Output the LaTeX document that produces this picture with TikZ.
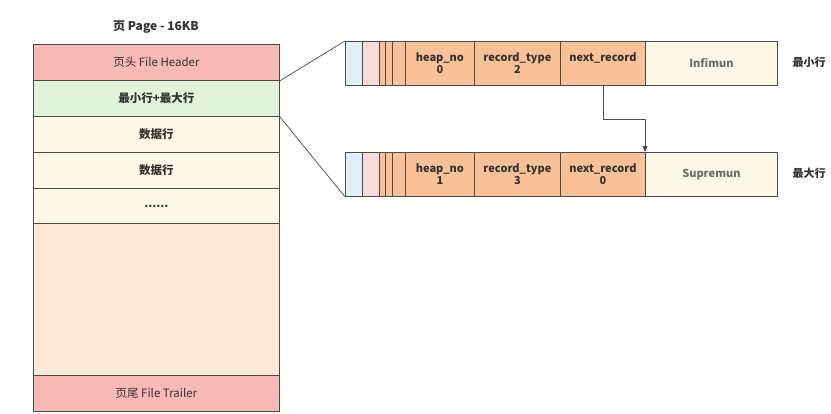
\documentclass[tikz,border=0pt]{standalone}
\usepackage{fontspec}
\setmainfont{Noto Sans CJK SC}
\usetikzlibrary{arrows.meta}
\definecolor{Hfill}{HTML}{F8B9B7}
\definecolor{Mfill}{HTML}{E1F3D8}
\definecolor{Dfill}{HTML}{FDF7E8}
\definecolor{Efill}{HTML}{FCE8D7}
\definecolor{Cfill}{HTML}{DCF2F8}
\definecolor{Pfill}{HTML}{FAD9D9}
\definecolor{Ofill}{HTML}{F8C197}
\definecolor{Bline}{HTML}{4A4A4A}
\definecolor{Tcol}{HTML}{333333}

\tikzset{
  pagerow/.style={draw=Bline,line width=0.8pt,inner sep=0pt,anchor=north west,
    minimum width=246pt,text=Tcol,font=\fontsize{11.5}{13}\selectfont},
  boldrow/.style={pagerow,font=\fontsize{11.5}{13}\selectfont\bfseries},
  reccell/.style={draw=Bline,line width=0.8pt,inner sep=0pt,anchor=north west,
    minimum height=44pt,text=Tcol,align=center,
    font=\fontsize{11}{12}\selectfont\bfseries},
}

\begin{document}
\begin{tikzpicture}[x=1pt,y=-1pt,line join=round]
\useasboundingbox (0,0) rectangle (831,413);

% ---- the page and its parts ----
\node[text=Tcol,font=\fontsize{12}{14}\selectfont\bfseries] (title) at (156,27) {页 Page - 16KB};
\node[pagerow,fill=Hfill,minimum height=36pt] (hdr) at (33,44) {页头 File Header};
\node[boldrow,fill=Mfill,minimum height=36pt] (minmax) at (33,80) {最小行+最大行};
\node[boldrow,fill=Dfill,minimum height=36pt] (dataA) at (33,116) {数据行};
\node[boldrow,fill=Dfill,minimum height=36pt] (dataB) at (33,152) {数据行};
\node[boldrow,fill=Dfill,minimum height=35pt] (dots) at (33,188) {......};
\node[pagerow,fill=Efill,minimum height=152pt] (free) at (33,223) {};
\node[pagerow,fill=Hfill,minimum height=36pt] (trl) at (33,375) {页尾 File Trailer};

% ---- the two records: Infimum and Supremum ----
\foreach \nm/\y/\hn/\rt/\nr/\txt/\lab in {%
    inf/41/0/2/{\phantom{0}}/Infimun/最小行,
    sup/152/1/3/0/Supremun/最大行}{
  \node[reccell,fill=Cfill,minimum width=17pt] (\nm-a) at (345,\y) {};
  \node[reccell,fill=Pfill,minimum width=17pt] (\nm-b) at (362,\y) {};
  \node[reccell,fill=Ofill,minimum width=6pt]  (\nm-c) at (379,\y) {};
  \node[reccell,fill=Ofill,minimum width=7pt]  (\nm-d) at (385,\y) {};
  \node[reccell,fill=Ofill,minimum width=13pt] (\nm-e) at (392,\y) {};
  \node[reccell,fill=Ofill,minimum width=69pt] (\nm-hn) at (405,\y) {heap\_no\\\hn};
  \node[reccell,fill=Ofill,minimum width=86pt] (\nm-rt) at (474,\y) {record\_type\\\rt};
  \node[reccell,fill=Ofill,minimum width=85pt] (\nm-nr) at (560,\y) {next\_record\\\nr};
  \node[reccell,fill=Dfill,minimum width=132pt,text=Bline!80] (\nm-main) at (645,\y) {\txt};
  \node[text=Tcol,font=\fontsize{11}{13}\selectfont\bfseries] (\nm-lab) at (809,\y+21) {\lab};
}

% ---- connectors ----
\draw[Bline,line width=0.7pt] (hdr.south east) -- (inf-a.north west);
\draw[Bline,line width=0.7pt] (minmax.south east) -- (sup-a.south west);
\draw[Bline,line width=0.8pt,-{Triangle[length=6pt,width=5pt]}]
  (inf-nr.south) -- ++(0,34) -| (sup-main.north west);
\end{tikzpicture}
\end{document}
